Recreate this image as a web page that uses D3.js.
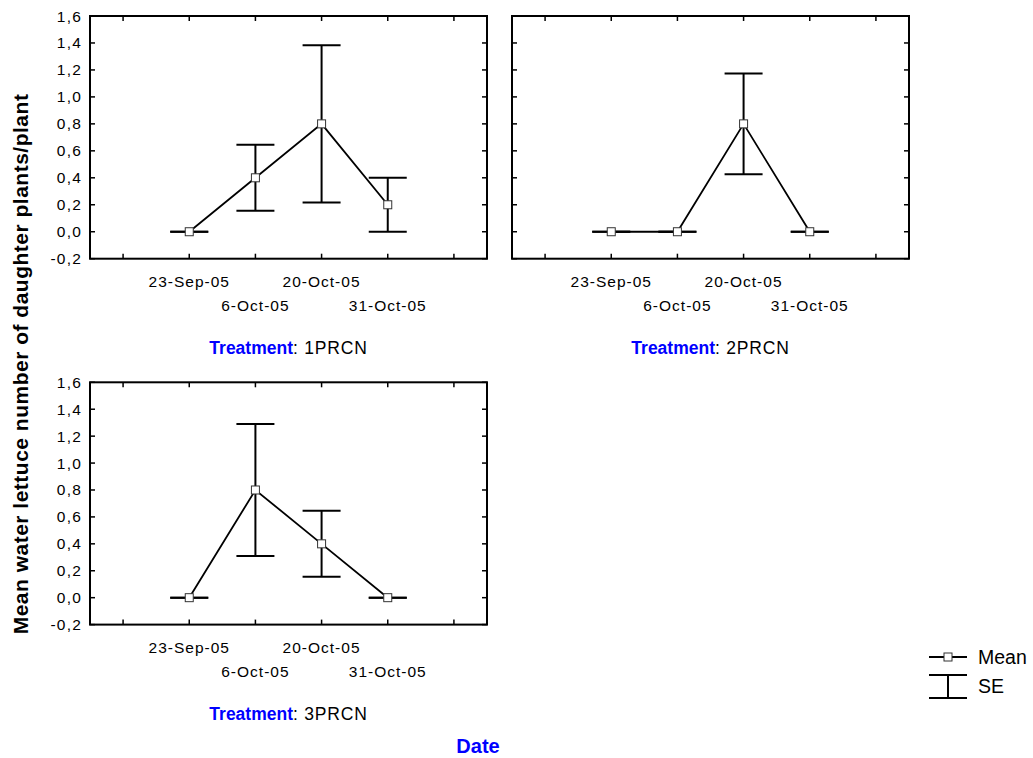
<!DOCTYPE html>
<html><head><meta charset="utf-8">
<script src="https://cdn.jsdelivr.net/npm/d3@7"></script>
<style>
body{margin:0;background:#fff;}
text{font-family:Arial,"Liberation Sans",sans-serif;fill:#000;}
</style></head>
<body><svg id="c" width="1033" height="758"></svg>
<script>
const dates = ["23-Sep-05","6-Oct-05","20-Oct-05","31-Oct-05"];
const datePos = [2,3,4,5];
const xTickPos = [1,2,3,4,5,6];
const yTicks = [-0.2,0,0.2,0.4,0.6,0.8,1.0,1.2,1.4,1.6];
const treatments = ["1PRCN","2PRCN","3PRCN"];
const mean1 = [0,0.4,0.8,0.2];
const se1   = [0,0.245,0.583,0.2];
const mean2 = [0,0,0.8,0];
const se2   = [0,0,0.374,0];
const mean3 = [0,0.8,0.4,0];
const se3   = [0,0.49,0.245,0];
const yTitle = "Mean water lettuce number of daughter plants/plant";
const xTitle = "Date";
const legendLabels = ["Mean","SE"];

const panels = [
  {t:treatments[0], mean:mean1, se:se1, x0:90, x1:487, y0:16, y1:258.7, showY:true},
  {t:treatments[1], mean:mean2, se:se2, x0:512, x1:909, y0:16, y1:258.7, showY:false},
  {t:treatments[2], mean:mean3, se:se3, x0:90, x1:487, y0:382.3, y1:624.6, showY:true}
];
const svg = d3.select("#c");
const fmt = v => (v<0?"-":"") + Math.abs(v).toFixed(1).replace(".",",");

panels.forEach(p=>{
  const x = d3.scaleLinear().domain([0.5,6.5]).range([p.x0,p.x1]);
  const y = d3.scaleLinear().domain([-0.2,1.6]).range([p.y1,p.y0]);
  const g = svg.append("g");
  const tk = 5;
  yTicks.forEach(v=>{
    g.append("line").attr("x1",p.x0).attr("x2",p.x0+tk).attr("y1",y(v)).attr("y2",y(v)).attr("stroke","#000").attr("stroke-width",1.5);
    g.append("line").attr("x1",p.x1).attr("x2",p.x1-tk).attr("y1",y(v)).attr("y2",y(v)).attr("stroke","#000").attr("stroke-width",1.5);
    if(p.showY){
      g.append("text").attr("x",p.x0-8).attr("y",y(v)+5.5).attr("text-anchor","end")
        .attr("font-size",15.5).attr("letter-spacing","1.2px").text(fmt(v));
    }
  });
  xTickPos.forEach(v=>{
    g.append("line").attr("x1",x(v)).attr("x2",x(v)).attr("y1",p.y0).attr("y2",p.y0+tk).attr("stroke","#000").attr("stroke-width",1.5);
    g.append("line").attr("x1",x(v)).attr("x2",x(v)).attr("y1",p.y1).attr("y2",p.y1-tk).attr("stroke","#000").attr("stroke-width",1.5);
  });
  dates.forEach((d,i)=>{
    g.append("text").attr("x",x(datePos[i])).attr("y",p.y1+28)
      .attr("dy",i%2===0?0:24)
      .attr("text-anchor","middle").attr("font-size",15.5).attr("letter-spacing","1px").text(d);
  });
  g.append("rect").attr("x",p.x0).attr("y",p.y0).attr("width",p.x1-p.x0).attr("height",p.y1-p.y0)
    .attr("fill","none").attr("stroke","#000").attr("stroke-width",2);
  const cw = 19;
  p.mean.forEach((m,i)=>{
    const cx = x(datePos[i]);
    const lo = y(m-p.se[i]), hi = y(m+p.se[i]);
    g.append("line").attr("x1",cx).attr("x2",cx).attr("y1",lo).attr("y2",hi).attr("stroke","#000").attr("stroke-width",2);
    g.append("line").attr("x1",cx-cw).attr("x2",cx+cw).attr("y1",lo).attr("y2",lo).attr("stroke","#000").attr("stroke-width",2);
    g.append("line").attr("x1",cx-cw).attr("x2",cx+cw).attr("y1",hi).attr("y2",hi).attr("stroke","#000").attr("stroke-width",2);
  });
  const line = d3.line().x((d,i)=>x(datePos[i])).y(d=>y(d));
  g.append("path").attr("d",line(p.mean)).attr("fill","none").attr("stroke","#000").attr("stroke-width",1.8);
  p.mean.forEach((m,i)=>{
    g.append("rect").attr("x",x(datePos[i])-4).attr("y",y(m)-4).attr("width",8).attr("height",8)
      .attr("fill","#fff").attr("stroke","#333").attr("stroke-width",1);
  });
  const t = g.append("text").attr("x",(p.x0+p.x1)/2).attr("y",p.y1+95).attr("text-anchor","middle").attr("font-size",17.5);
  t.append("tspan").attr("font-weight","bold").style("fill","#0000ff").text("Treatment");
  t.append("tspan").attr("letter-spacing","0.8px").text(": "+p.t);
});

svg.append("text").attr("transform","translate(28,364) rotate(-90)").attr("text-anchor","middle")
  .attr("font-size",21).attr("font-weight","bold").attr("letter-spacing","0.5px").text(yTitle);
svg.append("text").attr("x",478).attr("y",753).attr("text-anchor","middle").attr("font-size",20)
  .attr("font-weight","bold").style("fill","#0000ff").text(xTitle);

const lg = svg.append("g");
lg.append("line").attr("x1",929).attr("x2",967).attr("y1",657).attr("y2",657).attr("stroke","#000").attr("stroke-width",1.8);
lg.append("rect").attr("x",944).attr("y",653).attr("width",8).attr("height",8).attr("fill","#fff").attr("stroke","#333");
lg.append("text").attr("x",978).attr("y",664).attr("font-size",19.5).text(legendLabels[0]);
lg.append("line").attr("x1",929).attr("x2",967).attr("y1",675).attr("y2",675).attr("stroke","#000").attr("stroke-width",2);
lg.append("line").attr("x1",929).attr("x2",967).attr("y1",698).attr("y2",698).attr("stroke","#000").attr("stroke-width",2);
lg.append("line").attr("x1",948).attr("x2",948).attr("y1",675).attr("y2",698).attr("stroke","#000").attr("stroke-width",2);
lg.append("text").attr("x",978).attr("y",693).attr("font-size",19.5).text(legendLabels[1]);
</script></body></html>
